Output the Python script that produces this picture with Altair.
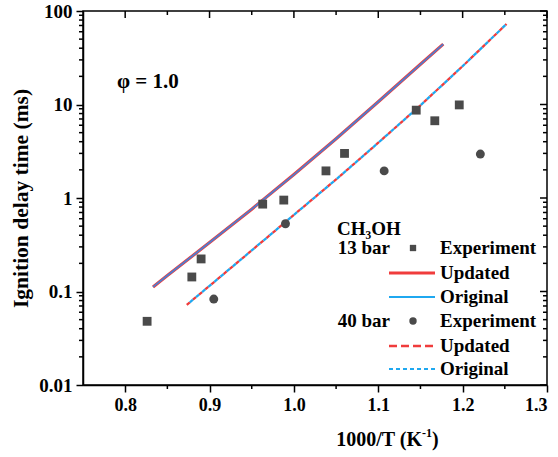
import altair as alt
import pandas as pd

# ---- data -------------------------------------------------------------
# 13 bar measurements (1000/T, ignition delay in ms)
exp13_x = [0.826, 0.879, 0.890, 0.963, 0.988, 1.038, 1.060, 1.145, 1.167, 1.196]
exp13_t = [0.048, 0.143, 0.223, 0.86, 0.95, 1.95, 3.0, 8.7, 6.7, 9.9]

# 40 bar measurements
exp40_x = [0.905, 0.990, 1.107, 1.221]
exp40_t = [0.083, 0.53, 1.95, 2.95]

# model predictions, 13 bar
sim13_x = [0.833, 0.85, 0.90, 0.95, 1.00, 1.05, 1.10, 1.15, 1.177]
sim13_updated = [0.112, 0.148, 0.334, 0.76, 1.78, 4.3, 10.7, 26.9, 44.2]
sim13_original = [0.112, 0.148, 0.334, 0.76, 1.78, 4.3, 10.7, 26.9, 44.2]

# model predictions, 40 bar
sim40_x = [0.873, 0.90, 0.95, 1.00, 1.05, 1.10, 1.15, 1.20, 1.252]
sim40_updated = [0.072, 0.115, 0.275, 0.66, 1.58, 3.9, 9.8, 25.7, 72.6]
sim40_original = [0.072, 0.115, 0.275, 0.66, 1.58, 3.9, 9.8, 25.7, 72.6]

# axis ticks
x_major = [0.8, 0.9, 1.0, 1.1, 1.2, 1.3]
x_minor = [0.85, 0.95, 1.05, 1.15, 1.25]
y_major = [0.01, 0.1, 1, 10, 100]
y_minor = [m * d for d in [0.01, 0.1, 1, 10] for m in range(2, 10)]

# ---- style ------------------------------------------------------------
FONT = "Liberation Serif"
RED = "#f03c3c"
BLUE = "#1fa8f0"
GREY = "#4a4a4a"
W, H = 464, 374

xscale = alt.Scale(domain=[0.75, 1.3], nice=False, zero=False)
yscale = alt.Scale(type="log", domain=[0.01, 100], nice=False)

X_AXIS = alt.Axis(
    values=x_major, format=".1f", title="",
    tickSize=7, tickWidth=1.5, domainWidth=1.5, domainColor="black",
    tickColor="black", labelFont=FONT, labelFontSize=18, labelFontWeight="bold",
    labelColor="black", labelPadding=4, grid=False,
)
Y_AXIS = alt.Axis(
    values=y_major, format="~g", title="Ignition delay time (ms)",
    tickSize=7, tickWidth=1.5, domainWidth=1.5, domainColor="black",
    tickColor="black", labelFont=FONT, labelFontSize=19, labelFontWeight="bold",
    labelColor="black", labelPadding=4, titleFont=FONT, titleFontSize=21.5,
    titleFontWeight="bold", titleColor="black", titlePadding=6, grid=False,
)

sim = pd.DataFrame({
    "x": sim13_x + sim13_x + sim40_x + sim40_x,
    "t": sim13_updated + sim13_original + sim40_updated + sim40_original,
    "s": (["13u"] * len(sim13_x) + ["13o"] * len(sim13_x)
          + ["40u"] * len(sim40_x) + ["40o"] * len(sim40_x)),
})
exp13 = pd.DataFrame({"x": exp13_x, "t": exp13_t})
exp40 = pd.DataFrame({"x": exp40_x, "t": exp40_t})

XE = alt.X("x:Q", scale=xscale)
YE = alt.Y("t:Q", scale=yscale)


def curve(series, color, width, dash=None, offset=0):
    kw = dict(color=color, strokeWidth=width, clip=False)
    if dash:
        kw["strokeDash"] = dash
        kw["strokeDashOffset"] = offset
    return (
        alt.Chart(sim).transform_filter(alt.datum.s == series)
        .mark_line(**kw)
        .encode(x=XE, y=YE, order="x:Q")
    )


# base layer carries the visible axes
axes = alt.Chart(exp13).mark_point(opacity=0).encode(
    x=alt.X("x:Q", scale=xscale, axis=X_AXIS),
    y=alt.Y("t:Q", scale=yscale, axis=Y_AXIS),
)

squares = alt.Chart(exp13).mark_point(
    shape="square", filled=True, color=GREY, size=78, opacity=1
).encode(x=XE, y=YE)

circles = alt.Chart(exp40).mark_point(
    shape="circle", filled=True, color=GREY, size=80, opacity=1
).encode(x=XE, y=YE)

lines = [
    curve("13u", RED, 3.2),
    curve("13o", "#4c7fd0", 1.8),
    curve("40u", RED, 2.3, [4, 4], 0),
    curve("40o", BLUE, 2.3, [4, 4], 4),
]


# extra tick marks: minor ticks outside, mirrored ticks inside top/right
def xticks(vals, y0, y1):
    return alt.Chart(pd.DataFrame({"x": vals})).mark_rule(
        color="black", strokeWidth=1.5
    ).encode(x=XE, y=alt.value(y0), y2=alt.value(y1))


def yticks(vals, x0, x1):
    return alt.Chart(pd.DataFrame({"t": vals})).mark_rule(
        color="black", strokeWidth=1.5
    ).encode(y=YE, x=alt.value(x0), x2=alt.value(x1))


ticks = [
    xticks(x_minor, H, H + 4),
    xticks(x_major, 0, 7),
    xticks(x_minor, 0, 4),
    yticks(y_minor, 0, -4),
    yticks(y_major, W, W - 7),
    yticks(y_minor, W, W - 4),
]


# free-standing text (legend, annotation, x-axis title with superscript)
def label(text, x, y, align="left", size=19):
    return alt.Chart(pd.DataFrame({"a": [0]})).mark_text(
        text=text, font=FONT, fontSize=size, fontWeight="bold",
        color="black", align=align, baseline="middle",
    ).encode(x=alt.value(x), y=alt.value(y))


def key_line(y, color, width, dash=None):
    kw = dict(color=color, strokeWidth=width)
    if dash:
        kw["strokeDash"] = dash
    return alt.Chart(pd.DataFrame({"a": [0]})).mark_rule(**kw).encode(
        x=alt.value(306), x2=alt.value(352), y=alt.value(y))


def key_point(y, shape, size):
    return alt.Chart(pd.DataFrame({"a": [0]})).mark_point(
        shape=shape, filled=True, color=GREY, size=size, opacity=1
    ).encode(x=alt.value(330), y=alt.value(y))


rows = [237, 262, 286, 310, 335, 358]
legend = [
    label("CH\u2083OH", 254, 218),
    label("13 bar", 307, rows[0], align="right"),
    key_point(rows[0], "square", 40),
    label("Experiment", 357, rows[0]),
    key_line(rows[1], RED, 3),
    label("Updated", 357, rows[1]),
    key_line(rows[2], BLUE, 1.8),
    label("Original", 357, rows[2]),
    label("40 bar", 307, rows[3], align="right"),
    key_point(rows[3], "circle", 55),
    label("Experiment", 357, rows[3]),
    key_line(rows[4], RED, 2.6, [8, 4]),
    label("Updated", 357, rows[4]),
    key_line(rows[5], BLUE, 2, [4, 3]),
    label("Original", 357, rows[5]),
    label("\u03c6 = 1.0", 34, 71, size=21),
]

# x-axis title: 1000/T (K^-1)
TY = 429
x_title = [
    label("1000/T (K", 339, TY, align="right", size=20),
    label("-1", 339, TY - 7, size=12),
    label(")", 349, TY, size=20),
]

chart = alt.layer(axes, *lines, squares, circles, *ticks, *legend, *x_title).properties(
    width=W, height=H,
    autosize=alt.AutoSizeParams(type="none"),
    padding={"left": 83, "top": 11, "right": 11, "bottom": 72},
    background="white",
).configure_view(stroke="black", strokeWidth=1.5)

chart.save("out.html", embed_options={"renderer": "svg", "actions": False})
